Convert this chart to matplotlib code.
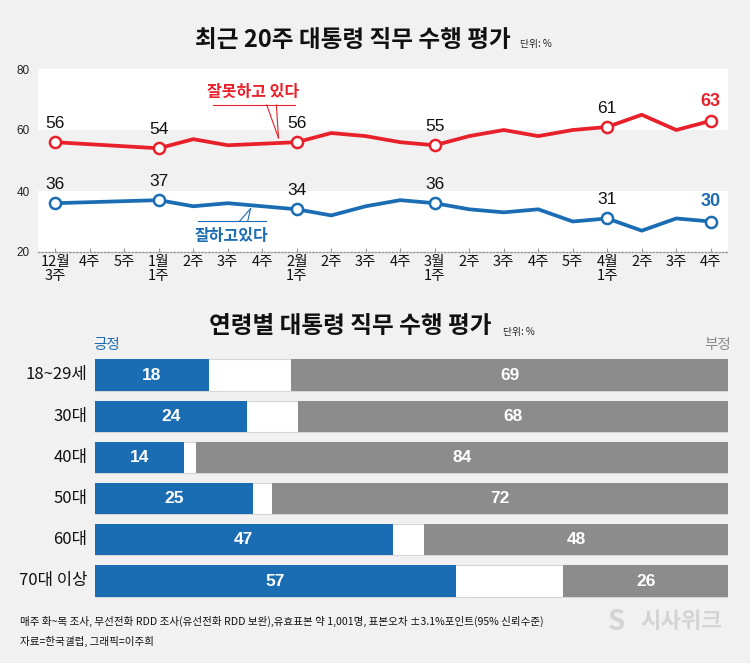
import numpy as np
import matplotlib
matplotlib.use('Agg')
import matplotlib.pyplot as plt
from matplotlib import font_manager

nan = np.nan

# weekly job approval, last 20 weeks (nan = no survey that week)
weeks = ['12월\n3주', '4주', '5주', '1월\n1주', '2주', '3주', '4주', '2월\n1주', '2주', '3주',
         '4주', '3월\n1주', '2주', '3주', '4주', '5주', '4월\n1주', '2주', '3주', '4주']
negative = [56, nan, nan, 54, 57, 55, nan, 56, 59, 58, 56, 55, 58, 60, 58, 60, 61, 65, 60, 63]
positive = [36, nan, nan, 37, 35, 36, nan, 34, 32, 35, 37, 36, 34, 33, 34, 30, 31, 27, 31, 30]
labeled = [0, 3, 7, 11, 16, 19]

# approval by age
ages = ['18~29세', '30대', '40대', '50대', '60대', '70대 이상']
age_pos = [18, 24, 14, 25, 47, 57]
age_neg = [69, 68, 84, 72, 48, 26]

BG = '#f1f1f1'
RED = '#e8202a'
BLUE = '#1b6db3'
GREY = '#8c8c8c'

names = {f.name for f in font_manager.fontManager.ttflist}
KR = 'Noto Sans CJK KR'
NUM = 'Liberation Sans Narrow' if 'Liberation Sans Narrow' in names else 'Liberation Sans'
plt.rcParams['font.family'] = [KR, 'DejaVu Sans']

W, H = 750, 663
fig = plt.figure(figsize=(W / 100, H / 100), dpi=100, facecolor=BG)

def fx(px):
    return px / W

def fy(py):
    return 1 - py / H

# ---- line chart ----
ax = fig.add_axes([fx(38), fy(252), fx(690), 183 / H])
ax.set_facecolor(BG)
ax.axhspan(60, 80, color='white', zorder=0, lw=0)
ax.axhspan(20, 40, color='white', zorder=0, lw=0)
x = np.arange(len(weeks))
for vals, color in [(negative, RED), (positive, BLUE)]:
    v = np.array(vals, float)
    m = ~np.isnan(v)
    ax.plot(x[m], v[m], color=color, lw=2.7, zorder=3, solid_joinstyle='round')
    ax.plot(x[labeled], v[labeled], 'o', ms=8, mfc='white', mec=color, mew=1.8, zorder=4)
    for i in labeled:
        last = i == labeled[-1]
        ax.annotate(str(int(v[i])), (x[i], v[i]), xytext=(0, 8), textcoords='offset points',
                    ha='center', va='bottom', fontsize=13 if last else 12.5,
                    family=NUM, fontweight='bold' if last else 'normal',
                    color=color if last else '#111111', zorder=5)

ax.set_xlim(-0.5, 19.5)
ax.set_ylim(20, 80)
for s in ['top', 'right', 'left']:
    ax.spines[s].set_visible(False)
ax.spines['bottom'].set_linestyle((0, (1, 1.5)))
ax.spines['bottom'].set_color('#999999')
ax.spines['bottom'].set_linewidth(1)
ax.set_yticks([20, 40, 60, 80])
ax.tick_params(axis='y', length=0, pad=6, labelsize=8.5, labelcolor='#222222')
for t in ax.get_yticklabels():
    t.set_family(NUM)
ax.set_xticks(x)
ax.set_xticklabels(weeks, fontsize=10.5, linespacing=1.0)
ax.tick_params(axis='x', direction='in', length=3, color='#999999', pad=2, labelcolor='#111111')

# callouts
ax.text(5.72, 72.6, '잘못하고 있다', color=RED, fontsize=11.5, fontweight='bold', ha='center', va='center')
ax.plot([4.56, 6.94], [68.2, 68.2], color=RED, lw=0.8)
ax.plot([6.13, 6.47], [68.2, 57.4], color=RED, lw=0.8)
ax.plot([6.41, 6.47], [68.2, 57.4], color=RED, lw=0.8)
ax.text(5.11, 25.3, '잘하고있다', color=BLUE, fontsize=11.5, fontweight='bold', ha='center', va='center')
ax.plot([4.13, 6.12], [30.2, 30.2], color=BLUE, lw=0.8)
ax.plot([5.35, 5.66], [30.2, 34.2], color=BLUE, lw=0.8)
ax.plot([5.58, 5.66], [30.2, 34.2], color=BLUE, lw=0.8)

# ---- bar chart ----
bx = fig.add_axes([fx(95), fy(601.6), fx(633), 247.2 / H])
bx.set_facecolor(BG)
yy = np.arange(len(ages))
pos = np.array(age_pos)
neg = np.array(age_neg)
bx.barh(yy, 100, height=0.76, color='white', edgecolor='#d6d6d6', lw=0.8)
bx.barh(yy, pos, height=0.76, color=BLUE)
bx.barh(yy, neg, left=100 - neg, height=0.76, color=GREY)
for i in yy:
    bx.text(pos[i] / 2, i, str(pos[i]), color='white', fontsize=12.5, family=NUM,
            fontweight='bold', ha='center', va='center')
    bx.text(100 - neg[i] / 2, i, str(neg[i]), color='white', fontsize=12.5, family=NUM,
            fontweight='bold', ha='center', va='center')
    bx.text(-1.2, i, ages[i], color='#111111', fontsize=12, ha='right', va='center')
bx.set_xlim(0, 100)
bx.set_ylim(5.5, -0.5)
bx.axis('off')

# ---- titles and notes ----
fig.text(fx(353), fy(40), '최근 20주 대통령 직무 수행 평가', fontsize=17, fontweight='bold',
         ha='center', va='center', color='#111111')
fig.text(fx(520), fy(44), '단위: %', fontsize=7, ha='left', va='center', color='#222222')
fig.text(fx(350), fy(326), '연령별 대통령 직무 수행 평가', fontsize=17, fontweight='bold',
         ha='center', va='center', color='#111111')
fig.text(fx(503), fy(332), '단위: %', fontsize=7, ha='left', va='center', color='#222222')
fig.text(fx(93), fy(345), '긍정', fontsize=10.5, color=BLUE, ha='left', va='center')
fig.text(fx(731), fy(345), '부정', fontsize=10.5, color=GREY, ha='right', va='center')

fig.text(fx(20), fy(621), '매주 화~목 조사, 무선전화 RDD 조사(유선전화 RDD 보완),유효표본 약 1,001명, '
         '표본오차 ±3.1%포인트(95% 신뢰수준)', fontsize=7.6, ha='left', va='center', color='#111111')
fig.text(fx(20), fy(641), '자료=한국갤럽, 그래픽=이주희', fontsize=7.6, ha='left', va='center', color='#111111')
fig.text(fx(722), fy(622), '시사위크', fontsize=16, fontweight='bold', ha='right', va='center', color='#d4d4d4')
fig.text(fx(617), fy(622), 'S', fontsize=20, fontweight='bold', ha='center', va='center', color='#d4d4d4')

fig.savefig('out.png', dpi=100, facecolor=BG)
